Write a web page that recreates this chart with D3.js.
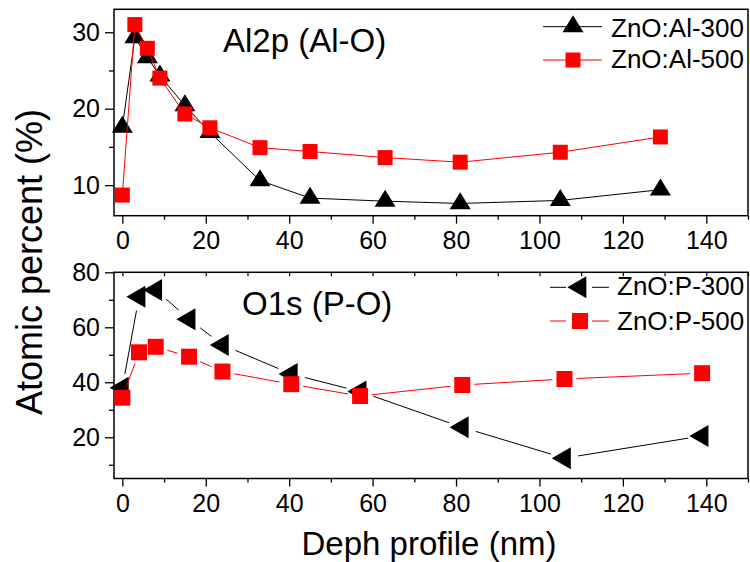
<!DOCTYPE html>
<html>
<head>
<meta charset="utf-8">
<script src="https://cdn.jsdelivr.net/npm/d3@7"></script>
<style>
  body { margin: 0; background: #fff; }
  svg { display: block; font-family: "Liberation Sans", Arial, sans-serif; }
</style>
</head>
<body>
<svg id="chart" width="750" height="562"></svg>
<script>
// Al2p (Al-O) panel
const alDepth = [0, 3, 6, 9, 15, 21, 33, 45, 63, 81, 105, 129];
const al300 = [17.6, 29.3, 26.7, 24.3, 20.4, 16.9, 10.6, 8.3, 7.9, 7.6, 8.0, 9.4];
const al500 = [8.7, 31.0, 27.9, 24.0, 19.3, 17.5, 14.9, 14.4, 13.6, 13.0, 14.3, 16.3];

// O1s (P-O) panel
const pDepth = [0, 4, 8, 16, 24, 40.5, 57, 81.5, 106, 139];
const p300 = [38, 71.1, 73.6, 62.9, 53.6, 43.0, 36.6, 23.6, 12.4, 20.5];
const p500 = [34.4, 50.9, 52.9, 49.3, 43.9, 39.3, 35.0, 39.0, 41.2, 43.3];

const xTicks = [0, 20, 40, 60, 80, 100, 120, 140];
const alYTicks = [10, 20, 30];
const pYTicks = [20, 40, 60, 80];

const svg = d3.select("#chart");
const left = 114, right = 748;

const x = d3.scaleLinear().domain([-2, 150]).range([left, right]);
const yTop = d3.scaleLinear().domain([6, 33]).range([215.7, 9.3]);
const yBot = d3.scaleLinear().domain([5, 80]).range([478.5, 272.3]);

// marker paths
const triUp = (w, h) => `M0,${-2 * h / 3}L${w / 2},${h / 3}L${-w / 2},${h / 3}Z`;
const triLeft = (w, h) => `M${-2 * w / 3},0L${w / 3},${-h / 2}L${w / 3},${h / 2}Z`;
const square = s => `M${-s / 2},${-s / 2}h${s}v${s}h${-s}Z`;

function panel(y, yTicks, minorStep, bottomY, topTicks) {
  const g = svg.append("g");
  const [y0, y1] = y.domain();
  const minorY = d3.range(Math.ceil(y0 / minorStep) * minorStep, y1 + 0.01, minorStep)
    .filter(v => !yTicks.includes(v));
  const minorX = d3.range(10, 151, 20);

  // x axis
  g.append("g")
    .attr("transform", `translate(0,${bottomY})`)
    .call(d3.axisBottom(x).tickValues(xTicks).tickSize(8).tickPadding(8))
    .call(a => a.select(".domain").remove())
    .call(a => a.selectAll("text").attr("font-size", 25).attr("font-family", "Liberation Sans, Arial"))
    .call(a => a.selectAll("line").attr("stroke-width", 1.3));
  g.append("g")
    .attr("transform", `translate(0,${bottomY})`)
    .call(d3.axisBottom(x).tickValues(minorX).tickSize(4).tickFormat(""))
    .call(a => a.select(".domain").remove())
    .call(a => a.selectAll("line").attr("stroke-width", 1.3));

  if (topTicks) {
    g.append("g")
      .attr("transform", `translate(0,${y.range()[1]})`)
      .call(d3.axisBottom(x).tickValues(d3.range(0, 151, 10)).tickSize(4).tickFormat(""))
      .call(a => a.select(".domain").remove())
      .call(a => a.selectAll("line").attr("stroke-width", 1.2));
  }

  // y axis
  g.append("g")
    .attr("transform", `translate(${left},0)`)
    .call(d3.axisLeft(y).tickValues(yTicks).tickSize(9).tickPadding(5))
    .call(a => a.select(".domain").remove())
    .call(a => a.selectAll("text").attr("font-size", 25).attr("font-family", "Liberation Sans, Arial"))
    .call(a => a.selectAll("line").attr("stroke-width", 1.3));
  g.append("g")
    .attr("transform", `translate(${left},0)`)
    .call(d3.axisLeft(y).tickValues(minorY).tickSize(5).tickFormat(""))
    .call(a => a.select(".domain").remove())
    .call(a => a.selectAll("line").attr("stroke-width", 1.3));

  // frame
  g.append("rect")
    .attr("x", left).attr("y", y.range()[1])
    .attr("width", right - left).attr("height", y.range()[0] - y.range()[1])
    .attr("fill", "none").attr("stroke", "#000").attr("stroke-width", 1.5);
  return g;
}

panel(yTop, alYTicks, 5, 215.7, false);
panel(yBot, pYTicks, 10, 478.5, true);

// continuous line + markers
function series(y, xs, ys, color, marker, gap) {
  const pts = xs.map((d, i) => [x(d), y(ys[i])]);
  if (!gap) {
    svg.append("path")
      .attr("d", d3.line()(pts))
      .attr("fill", "none").attr("stroke", color).attr("stroke-width", 1);
  } else {
    const segs = d3.pairs(pts).map(([a, b]) => {
      const dx = b[0] - a[0], dy = b[1] - a[1];
      const len = Math.hypot(dx, dy);
      const ux = dx / len, uy = dy / len;
      return [[a[0] + ux * gap, a[1] + uy * gap], [b[0] - ux * gap, b[1] - uy * gap], len];
    }).filter(s => s[2] > 2 * gap);
    svg.append("g").selectAll("line").data(segs).join("line")
      .attr("x1", d => d[0][0]).attr("y1", d => d[0][1])
      .attr("x2", d => d[1][0]).attr("y2", d => d[1][1])
      .attr("stroke", color).attr("stroke-width", 1);
  }
  svg.append("g").selectAll("path").data(pts).join("path")
    .attr("transform", d => `translate(${d[0]},${d[1]})`)
    .attr("d", marker)
    .attr("fill", color);
}

series(yTop, alDepth, al300, "#000", triUp(21, 17), 0);
series(yTop, alDepth, al500, "#ff0000", square(15), 0);
series(yBot, pDepth, p300, "#000", triLeft(19, 22), 14);
series(yBot, pDepth, p500, "#ff0000", square(16), 12);

// panel labels
svg.append("text").attr("x", 223).attr("y", 52).attr("font-size", 33).text("Al2p (Al-O)");
svg.append("text").attr("x", 242).attr("y", 315).attr("font-size", 33).text("O1s (P-O)");

// legends
const legTop = [
  { name: "ZnO:Al-300", color: "#000", marker: triUp(21, 17), ly: 26.7, ty: 36.7 },
  { name: "ZnO:Al-500", color: "#ff0000", marker: square(15), ly: 60, ty: 68.3 }
];
legTop.forEach(d => {
  svg.append("line").attr("x1", 543).attr("x2", 602).attr("y1", d.ly).attr("y2", d.ly)
    .attr("stroke", d.color).attr("stroke-width", 1);
  svg.append("path").attr("transform", `translate(573,${d.ly})`).attr("d", d.marker).attr("fill", d.color);
  svg.append("text").attr("x", 611).attr("y", d.ty).attr("font-size", 26).text(d.name);
});

const legBot = [
  { name: "ZnO:P-300", color: "#000", marker: triLeft(19, 22), ly: 287.3, ty: 295 },
  { name: "ZnO:P-500", color: "#ff0000", marker: square(16), ly: 321, ty: 330 }
];
legBot.forEach(d => {
  svg.append("line").attr("x1", 550).attr("x2", 566).attr("y1", d.ly).attr("y2", d.ly)
    .attr("stroke", d.color).attr("stroke-width", 1);
  svg.append("line").attr("x1", 592).attr("x2", 609).attr("y1", d.ly).attr("y2", d.ly)
    .attr("stroke", d.color).attr("stroke-width", 1);
  svg.append("path").attr("transform", `translate(580,${d.ly})`).attr("d", d.marker).attr("fill", d.color);
  svg.append("text").attr("x", 617).attr("y", d.ty).attr("font-size", 26).text(d.name);
});

// axis titles
svg.append("text")
  .attr("transform", "translate(42,262) rotate(-90)")
  .attr("text-anchor", "middle").attr("font-size", 36)
  .text("Atomic percent (%)");
svg.append("text")
  .attr("x", 429).attr("y", 555)
  .attr("text-anchor", "middle").attr("font-size", 33)
  .text("Deph profile (nm)");
</script>
</body>
</html>
